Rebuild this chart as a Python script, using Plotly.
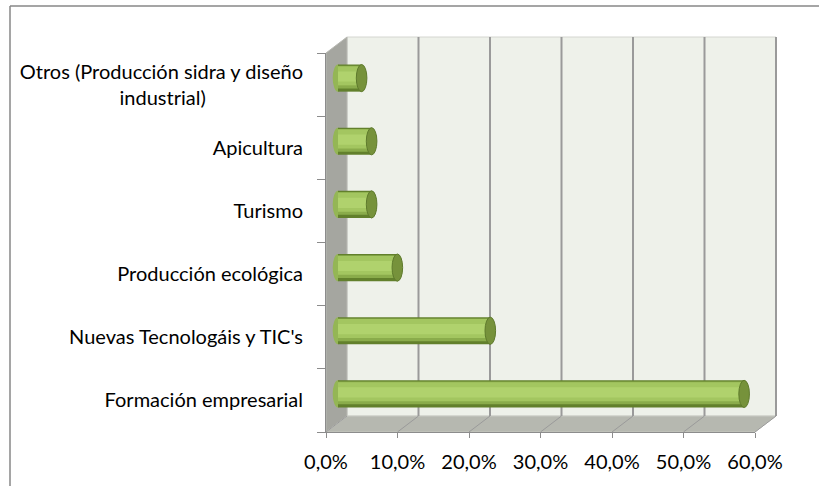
import plotly.graph_objects as go

# ---- data (bottom-to-top order) ----
categories = ["Formación empresarial", "Nuevas Tecnologáis y TIC's", "Producción ecológica",
              "Turismo", "Apicultura", "Otros (Producción sidra y diseño industrial)"]
values = [0.568, 0.213, 0.083, 0.047, 0.047, 0.033]
tick_labels = ["Formación empresarial", "Nuevas Tecnologáis y TIC's", "Producción ecológica",
               "Turismo", "Apicultura",
               "Otros (Producción sidra y diseño<br>industrial)" + "\u00a0" * 19]
x_ticks = [0.0, 0.1, 0.2, 0.3, 0.4, 0.5, 0.6]

# ---- geometry ----
W, H = 819, 486
ML, MT = 326, 53
MR, MB = W - 755, H - 432
PW, PH = W - ML - MR, H - MT - MB
DX, DY = 21, -16          # depth offset of back wall (px)
XMAX = 0.6
SHIFT_X = 12 / PW * XMAX  # bars sit inside the depth
SHIFT_Y = 6.5 / (PH / len(categories))
BW = 0.43                 # bar thickness (category units)
CAPW = 5.3 / PW * XMAX    # half width of end cap

def px(x):
    return (x - ML) / PW

def py(y):
    return (H - MB - y) / PH

def xpix(v):
    return ML + v / XMAX * PW

FONT = "Lato"
FS = 20
shapes = []
# back wall
shapes.append(dict(type="rect", xref="paper", yref="paper", layer="below",
                   x0=px(ML + DX), x1=px(ML + PW + DX), y0=py(MT + PH + DY), y1=py(MT + DY),
                   fillcolor="#EEF1EA", line=dict(color="#D4D6D0", width=1)))
# side wall
shapes.append(dict(type="path", xref="paper", yref="paper", layer="below",
                   path=f"M {px(ML)} {py(MT)} L {px(ML+DX)} {py(MT+DY)} L {px(ML+DX)} {py(MT+PH+DY)} L {px(ML)} {py(MT+PH)} Z",
                   fillcolor="#A5A6A0", line=dict(color="#B8B9B3", width=1)))
# floor
shapes.append(dict(type="path", xref="paper", yref="paper", layer="below",
                   path=f"M {px(ML)} {py(MT+PH)} L {px(ML+DX)} {py(MT+PH+DY)} L {px(ML+PW+DX)} {py(MT+PH+DY)} L {px(ML+PW)} {py(MT+PH)} Z",
                   fillcolor="#B6B8B0", line=dict(color="#C8CAC3", width=1)))
# gridlines on back wall and floor
for t in x_ticks:
    xb = xpix(t) + DX
    if t > 0:
        shapes.append(dict(type="line", xref="paper", yref="paper", layer="below",
                           x0=px(xb), x1=px(xb), y0=py(MT + PH + DY), y1=py(MT + DY),
                           line=dict(color="#9A9A9A", width=2)))
    shapes.append(dict(type="line", xref="paper", yref="paper", layer="below",
                       x0=px(xpix(t)), x1=px(xb), y0=py(MT + PH), y1=py(MT + PH + DY),
                       line=dict(color="#9A9A9A", width=1)))
# left rounded ends of cylinders (under the bars)
for i, v in enumerate(values):
    shapes.append(dict(type="circle", xref="x2", yref="y2", layer="below",
                       x0=-CAPW, x1=CAPW, y0=i - BW / 2, y1=i + BW / 2,
                       fillcolor="#94B655", line=dict(width=0)))
# end caps
for i, v in enumerate(values):
    shapes.append(dict(type="circle", xref="x2", yref="y2", layer="above",
                       x0=v - CAPW, x1=v + CAPW, y0=i - BW / 2, y1=i + BW / 2,
                       fillcolor="#76923B", line=dict(color="#5E7A2C", width=1)))
# outer frame (cropped chart border)
shapes.append(dict(type="line", xref="paper", yref="paper", x0=px(10), x1=px(10),
                   y0=py(6), y1=py(H + 4), line=dict(color="#878787", width=1.5)))
shapes.append(dict(type="line", xref="paper", yref="paper", x0=px(10), x1=px(W + 4),
                   y0=py(6), y1=py(6), line=dict(color="#878787", width=1.5)))

fig = go.Figure()
# invisible trace to anchor the main (front) axes
fig.add_trace(go.Scatter(x=values, y=categories, mode="markers", marker=dict(opacity=0),
                         showlegend=False, hoverinfo="skip"))
layers = [  # (offset from bottom, width, color)
    (0.00, BW, "#62802C"),
    (0.05, BW - 0.07, "#8AAC4B"),
    (0.10, BW - 0.13, "#A3C660"),
    (0.16, 0.16, "#B0D26D"),
]
for off, w, col in layers:
    fig.add_trace(go.Bar(y=categories, x=values, orientation="h", width=w,
                         offset=-BW / 2 + off, marker=dict(color=col, line=dict(width=0)),
                         xaxis="x2", yaxis="y2", showlegend=False, hoverinfo="x+y"))

fig.update_layout(
    width=W, height=H, margin=dict(l=ML, r=MR, t=MT, b=MB),
    paper_bgcolor="white", plot_bgcolor="rgba(0,0,0,0)",
    separators=",.", barmode="overlay", showlegend=False, shapes=shapes,
    font=dict(family=FONT, size=FS, color="#000000"),
    xaxis=dict(range=[0, XMAX], tickvals=x_ticks, tickformat=".1%", showgrid=False,
               zeroline=False, showline=True, linecolor="#8C8C8C", linewidth=1,
               ticks="outside", ticklen=5, tickcolor="#8C8C8C", ticklabelstandoff=7,
               tickfont=dict(family=FONT, size=FS)),
    yaxis=dict(type="category", categoryorder="array", categoryarray=categories,
               range=[-0.5, len(categories) - 0.5], tickvals=categories, ticktext=tick_labels,
               showgrid=False, zeroline=False, showline=True, linecolor="#8C8C8C", linewidth=1,
               ticks="outside", ticklen=8, tickcolor="#8C8C8C", tickson="boundaries",
               ticklabelstandoff=18, tickfont=dict(family=FONT, size=FS)),
    xaxis2=dict(overlaying="x", range=[-SHIFT_X, XMAX - SHIFT_X], visible=False),
    yaxis2=dict(overlaying="y", type="category", categoryorder="array", categoryarray=categories,
                range=[-0.5 - SHIFT_Y, len(categories) - 0.5 - SHIFT_Y], visible=False),
)

fig.write_html("out.html", config={"displayModeBar": False},
               post_script="document.body.style.margin='0';document.body.style.overflow='hidden';")
